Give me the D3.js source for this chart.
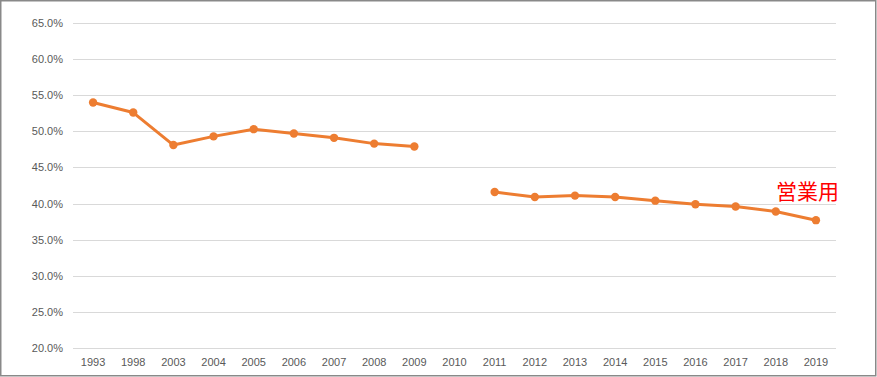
<!DOCTYPE html>
<html lang="ja">
<head>
<meta charset="UTF-8">
<title>営業用</title>
<style>
  body { margin: 0; background: #fff; }
  .grid line { stroke: #d9d9d9; stroke-width: 1; }
  .axis text { fill: #595959; font-family: "Liberation Sans", Arial, sans-serif; font-size: 11px; }
  .line { fill: none; stroke: #ed7d31; stroke-width: 3px; stroke-linejoin: round; }
</style>
</head>
<body>
<div id="chart"></div>
<script src="https://d3js.org/d3.v7.min.js"></script>
<script>
// data
var years = ["1993","1998","2003","2004","2005","2006","2007","2008","2009","2010",
             "2011","2012","2013","2014","2015","2016","2017","2018","2019"];
var ratio = [54.0, 52.6, 48.1, 49.3, 50.3, 49.7, 49.1, 48.3, 47.9, null,
             41.6, 40.9, 41.1, 40.9, 40.4, 39.9, 39.6, 38.9, 37.7];
var yTicks = [20, 25, 30, 35, 40, 45, 50, 55, 60, 65];
var seriesLabel = "営業用";

var W = 877, H = 377;
var margin = {top: 23, right: 41, bottom: 29, left: 73};
var width = W - margin.left - margin.right;
var height = H - margin.top - margin.bottom;

var svg = d3.select("#chart").append("svg")
    .attr("width", W).attr("height", H);

// outer frame
svg.append("rect")
    .attr("x", 0.75).attr("y", 0.75)
    .attr("width", 875).attr("height", 375)
    .attr("fill", "#fff").attr("stroke", "#898989").attr("stroke-width", 1.5);

var g = svg.append("g").attr("transform", "translate(" + margin.left + "," + margin.top + ")");

var x = d3.scaleBand().domain(years).range([0, width]);
var y = d3.scaleLinear().domain([20, 65]).range([height, 0]);

// horizontal grid
g.append("g").attr("class", "grid")
  .selectAll("line").data(yTicks).join("line")
    .attr("x1", 0).attr("x2", width)
    .attr("y1", function(d){ return Math.round(y(d)) + 0.5; })
    .attr("y2", function(d){ return Math.round(y(d)) + 0.5; });

// y axis labels
var yAxis = d3.axisLeft(y).tickValues(yTicks)
    .tickFormat(function(d){ return d.toFixed(1) + "%"; })
    .tickSize(0).tickPadding(10);
g.append("g").attr("class", "axis").call(yAxis)
  .call(function(s){ s.select(".domain").remove(); });

// x axis labels
var xAxis = d3.axisBottom(x).tickSize(0).tickPadding(10);
g.append("g").attr("class", "axis")
  .attr("transform", "translate(0," + height + ")")
  .call(xAxis)
  .call(function(s){ s.select(".domain").remove(); });

var pts = years.map(function(yr, i){ return {year: yr, v: ratio[i]}; });

var line = d3.line()
    .defined(function(d){ return d.v != null; })
    .x(function(d){ return x(d.year) + x.bandwidth() / 2; })
    .y(function(d){ return y(d.v); });

g.append("path").attr("class", "line").attr("d", line(pts));

g.append("g").selectAll("circle")
  .data(pts.filter(function(d){ return d.v != null; }))
  .join("circle")
    .attr("cx", function(d){ return x(d.year) + x.bandwidth() / 2; })
    .attr("cy", function(d){ return y(d.v); })
    .attr("r", 4.2)
    .attr("fill", "#ed7d31");

// series label
var last = pts[pts.length - 1];
g.append("text")
  .attr("x", width + 3)
  .attr("y", y(last.v) - 21)
  .attr("text-anchor", "end")
  .attr("fill", "#ff0000")
  .style("font-family", "'Noto Sans CJK JP', sans-serif")
  .style("font-size", "21px")
  .text(seriesLabel);
</script>
</body>
</html>
